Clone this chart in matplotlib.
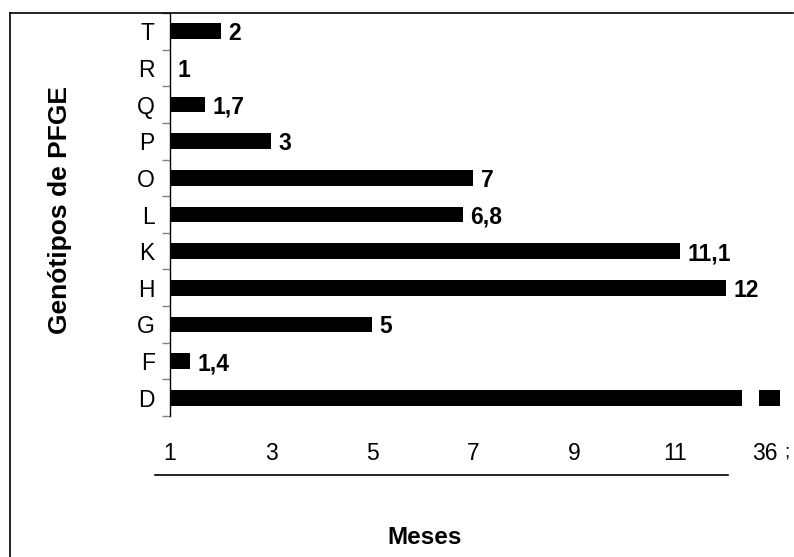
import matplotlib.pyplot as plt
from matplotlib.lines import Line2D

plt.rcParams['font.family'] = ['Liberation Sans', 'DejaVu Sans']

# genotypes (bottom to top) and months
genotipos = ["D", "F", "G", "H", "K", "L", "O", "P", "Q", "R", "T"]
meses = [36, 1.4, 5, 12, 11.1, 6.8, 7, 3, 1.7, 1, 2]
rotulos = ["", "1,4", "5", "12", "11,1", "6,8", "7", "3", "1,7", "1", "2"]

xticks = [1, 3, 5, 7, 9, 11]
# broken axis: 36 is drawn beyond the break
brk_a, brk_b = 12.32, 12.66
pos_36 = 13.08
tick_36 = 12.78

fig = plt.figure(figsize=(7.94, 5.57), dpi=100)
ax = fig.add_axes([170 / 794, 1 - 416 / 557, 624 / 794, 403 / 557])

for i, (g, v, lab) in enumerate(zip(genotipos, meses, rotulos)):
    if v > 12:
        ax.barh(i, brk_a, height=0.43, color="black")
        ax.barh(i, pos_36 - brk_b, left=brk_b, height=0.43, color="black")
    else:
        ax.barh(i, v, height=0.43, color="black")
        ax.annotate(lab, (max(v, 1), i), xytext=(5.5, 0), textcoords="offset points",
                    ha="left", va="center_baseline", fontsize=16.5, fontweight="bold")

ax.set_xlim(1, 1 + 624 / 50.5)
ax.set_ylim(-0.5, len(genotipos) - 0.5)

ax.set_yticks(range(len(genotipos)))
ax.set_yticklabels(genotipos, fontsize=16.5)
ax.set_yticks([i - 0.5 for i in range(len(genotipos) + 1)], minor=True)
ax.tick_params(axis="y", which="major", length=0, pad=11)
ax.tick_params(axis="y", which="minor", length=6, width=1, color="#808080")

ax.set_xticks(xticks + [tick_36])
ax.set_xticklabels([str(t) for t in xticks] + ["36"], fontsize=16.5)
ax.tick_params(axis="x", length=0, pad=19)

for s in ["top", "right", "bottom"]:
    ax.spines[s].set_visible(False)
ax.spines["left"].set_linewidth(1)

# break mark after 36
fig.text(787 / 794, 1 - 452 / 557, ";", fontsize=14, ha="center", va="center")

# frame and extra line
fig.add_artist(Line2D([10 / 794, 793 / 794], [1 - 13 / 557, 1 - 13 / 557], color="black", lw=1.2))
fig.add_artist(Line2D([10 / 794, 10 / 794], [0, 1 - 13 / 557], color="black", lw=1.2))
fig.add_artist(Line2D([155 / 794, 728 / 794], [1 - 475 / 557, 1 - 475 / 557], color="black", lw=1.2))

fig.text(425 / 794, 1 - 538 / 557, "Meses", fontsize=17.5, fontweight="bold", ha="center", va="center")
fig.text(60 / 794, 1 - 210 / 557, "Genótipos de PFGE", fontsize=19, fontweight="bold",
         rotation=90, ha="center", va="center")

fig.savefig("out.png", dpi=100)
